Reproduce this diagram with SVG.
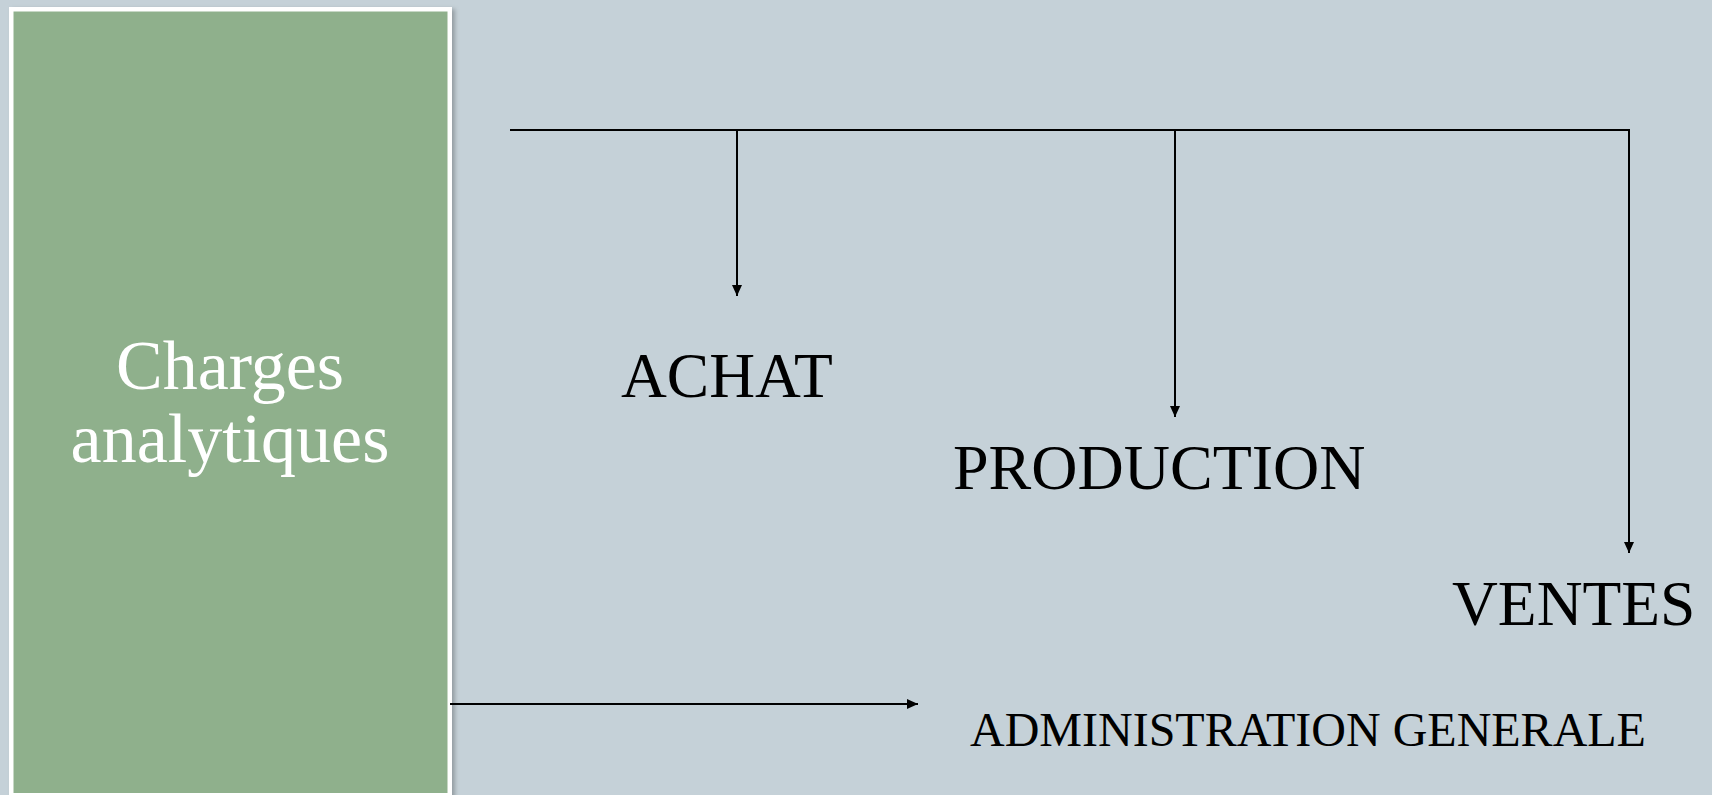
<svg xmlns="http://www.w3.org/2000/svg" width="1712" height="795" viewBox="0 0 1712 795">
  <style>
    .lbl { font-family: "Liberation Serif", "Times New Roman", serif; fill: #000000; }
    .conn { stroke: #000000; stroke-width: 2; fill: none; }
    .side { font-family: "Liberation Serif", Georgia, serif; fill: #ffffff; font-size: 70px; text-anchor: middle; }
  </style>
  <defs>
    <marker id="arrow" markerUnits="userSpaceOnUse" markerWidth="11" markerHeight="10" refX="11" refY="5" orient="auto">
      <path d="M0,0 L11,5 L0,10 z" fill="#000000"/>
    </marker>
    <filter id="shadow" x="-5%" y="-5%" width="110%" height="110%">
      <feDropShadow dx="3" dy="2" stdDeviation="2" flood-color="#000000" flood-opacity="0.25"/>
    </filter>
  </defs>
  <rect x="0" y="0" width="1712" height="795" fill="#C5D1D8"/>

  <g id="charges">
    <rect x="11.25" y="9.25" width="438.5" height="786" fill="#8FB08C" stroke="#ffffff" stroke-width="4.5" filter="url(#shadow)"/>
    <text class="side" x="230" y="389">Charges</text>
    <text class="side" x="230" y="462">analytiques</text>
  </g>

  <g id="connectors">
    <line class="conn" x1="510" y1="130" x2="1629" y2="130"/>
    <line class="conn" x1="737" y1="130" x2="737" y2="296" marker-end="url(#arrow)"/>
    <line class="conn" x1="1175" y1="130" x2="1175" y2="417" marker-end="url(#arrow)"/>
    <line class="conn" x1="1629" y1="129" x2="1629" y2="553" marker-end="url(#arrow)"/>
    <line class="conn" x1="450" y1="704" x2="918" y2="704" marker-end="url(#arrow)"/>
  </g>

  <g id="achat">
    <text class="lbl" x="621" y="397" font-size="63.5">ACHAT</text>
  </g>
  <g id="production">
    <text class="lbl" x="953" y="489" font-size="64">PRODUCTION</text>
  </g>
  <g id="ventes">
    <text class="lbl" x="1452" y="625" font-size="63.5">VENTES</text>
  </g>
  <g id="administration">
    <text class="lbl" x="970" y="746" font-size="48">ADMINISTRATION GENERALE</text>
  </g>
</svg>
